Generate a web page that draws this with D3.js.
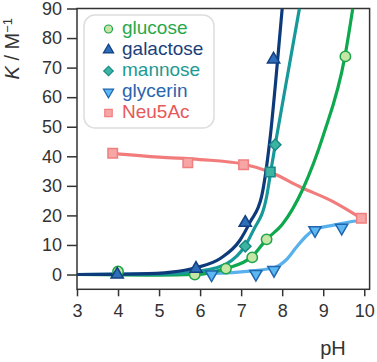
<!DOCTYPE html>
<html lang="en">
  <head>
    <meta charset="UTF-8" />
    <title>K vs pH</title>
    <script src="https://cdn.jsdelivr.net/npm/d3@7"></script>
    <style>
      body {
        margin: 0;
        background: #ffffff;
        font-family: "Liberation Sans", Arial, sans-serif;
      }
    </style>
  </head>
  <body>
    <div id="chart"></div>
    <script>
      // tick values
      const xTicks = [3, 4, 5, 6, 7, 8, 9, 10];
      const yTicks = [0, 10, 20, 30, 40, 50, 60, 70, 80, 90];

      // measured points [pH, K]
      const glucosePts = [[4.0, 1.0], [5.87, 0], [6.63, 2.0], [7.27, 5.8], [7.62, 11.9], [9.54, 73.8]];
      const galactosePts = [[3.98, 0], [5.9, 2.0], [7.1, 17.5], [7.79, 72.8]];
      const mannosePts = [[7.1, 9.6], [7.83, 43.9]];
      const mannoseSquarePts = [[7.71, 34.7]];
      const glycerinPts = [[6.28, 0], [7.36, 0.2], [7.8, 1.5], [8.8, 15.0], [9.45, 15.8]];
      const neuPts = [[3.87, 41.0], [5.7, 37.8], [7.06, 37.1], [9.93, 19.0]];

      // fitted curves [pH, K]
      const glucoseFit = [[3, 0], [5, -0.2], [5.86, 0], [6.62, 2], [7.26, 6], [7.62, 11.9], [8.0, 16.9], [8.51, 29.1], [9.0, 47], [9.53, 73.9], [9.72, 90]];
      const galactoseFit = [[3, 0], [4.5, 0.2], [5.3, 0.8], [5.9, 2.3], [6.5, 5.5], [6.97, 11.6], [7.22, 17.8], [7.5, 26.5], [7.7, 45.5], [7.89, 72.8], [8.0, 90]];
      const mannoseFit = [[3, 0], [5, 0.1], [6, 1.2], [6.65, 3.7], [7.09, 9.6], [7.3, 15], [7.62, 26.3], [7.72, 34.7], [7.85, 45.5], [8.2, 72.8], [8.42, 90]];
      const glycerinFit = [[3, 0], [6, 0.3], [7, 0.9], [7.8, 2.3], [8.1, 5], [8.35, 9.3], [8.6, 13.2], [8.8, 15.3], [9.25, 16.7], [9.82, 18.1], [10, 18.2]];
      const neuFit = [[3.87, 41], [5.0, 39.7], [6.0, 38.9], [7.04, 37.4], [7.72, 34.6], [8.43, 29.7], [9.25, 24.6], [9.93, 19.0]];

      const series = [
        { name: "Neu5Ac", fit: neuFit, pts: neuPts, shape: "square", line: "#f27c7c", fill: "#f8a5a5", stroke: "#f07f7f", text: "#e8585a" },
        { name: "glycerin", fit: glycerinFit, pts: glycerinPts, shape: "down", line: "#58b1ec", fill: "#5db8f2", stroke: "#1f66ae", text: "#2a64ad" },
        { name: "glucose", fit: glucoseFit, pts: glucosePts, shape: "circle", line: "#0ea84e", fill: "#c6e6a6", stroke: "#1ea54b", text: "#28a84a" },
        { name: "mannose", fit: mannoseFit, pts: mannosePts, shape: "diamond", line: "#17999a", fill: "#3db4a1", stroke: "#178a86", text: "#1d9a93" },
        { name: "galactose", fit: galactoseFit, pts: galactosePts, shape: "up", line: "#0d3a7a", fill: "#2e6eb9", stroke: "#123f80", text: "#1c3f7a" },
      ];
      const legendOrder = ["glucose", "galactose", "mannose", "glycerin", "Neu5Ac"];

      const W = 377, H = 362;
      const svg = d3.select("#chart").append("svg").attr("width", W).attr("height", H);

      const x = d3.scaleLinear().domain([3, 10.13]).range([77, 369.6]);
      const y = d3.scaleLinear().domain([-5, 90]).range([289.3, 8.5]);

      const axisColor = "#333333";

      svg.append("defs").append("clipPath").attr("id", "plot")
        .append("rect")
        .attr("x", x(3)).attr("y", y(90))
        .attr("width", x(10.13) - x(3)).attr("height", y(-5) - y(90));

      // axes
      const yAxis = svg.append("g")
        .attr("transform", `translate(${x(3)},0)`)
        .call(d3.axisLeft(y).tickValues(yTicks).tickSizeInner(10).tickSizeOuter(0).tickPadding(5));
      const xAxis = svg.append("g")
        .attr("transform", `translate(0,${y(-5)})`)
        .call(d3.axisBottom(x).tickValues(xTicks).tickSizeInner(7).tickSizeOuter(0).tickPadding(8));
      [xAxis, yAxis].forEach((g) => {
        g.select(".domain").remove();
        g.selectAll(".tick line").attr("stroke", axisColor).attr("stroke-width", 1.5);
        g.selectAll(".tick text")
          .attr("fill", axisColor)
          .style("font-family", '"Liberation Sans", Arial, sans-serif')
          .style("font-size", "18px");
      });

      // frame
      svg.append("rect")
        .attr("x", x(3)).attr("y", y(90))
        .attr("width", x(10.13) - x(3)).attr("height", y(-5) - y(90))
        .attr("fill", "none").attr("stroke", axisColor).attr("stroke-width", 1.5);

      // axis titles
      svg.append("text")
        .attr("x", 333).attr("y", 355)
        .attr("text-anchor", "middle")
        .attr("fill", axisColor)
        .style("font-size", "20px")
        .text("pH");

      const yl = svg.append("text")
        .attr("transform", "translate(19,18) rotate(-90)")
        .attr("text-anchor", "end")
        .attr("fill", axisColor)
        .style("font-size", "20px");
      yl.append("tspan").style("font-style", "italic").text("K");
      yl.append("tspan").text(" / M");
      yl.append("tspan").attr("dy", -7).style("font-size", "13px").text("\u22121");

      // curves
      const line = d3.line().x((d) => x(d[0])).y((d) => y(d[1])).curve(d3.curveMonotoneX);
      const plot = svg.append("g").attr("clip-path", "url(#plot)");
      series.forEach((s) => {
        plot.append("path")
          .datum(s.fit)
          .attr("fill", "none")
          .attr("stroke", s.line)
          .attr("stroke-width", 3.2)
          .attr("d", line);
      });

      const symbolFor = (shape, size) => {
        if (shape === "circle") return d3.symbol(d3.symbolCircle, size)();
        if (shape === "square") return d3.symbol(d3.symbolSquare, size)();
        if (shape === "diamond") return d3.symbol(d3.symbolSquare, size)();
        return d3.symbol(d3.symbolTriangle, size)();
      };
      const rotFor = (shape) => (shape === "diamond" ? 45 : shape === "down" ? 180 : 0);

      function drawMarkers(g, pts, s, shape, size) {
        g.selectAll(null)
          .data(pts)
          .enter()
          .append("path")
          .attr("d", symbolFor(shape, size))
          .attr("transform", (d) => `translate(${x(d[0])},${y(d[1])}) rotate(${rotFor(shape)})`)
          .attr("fill", s.fill)
          .attr("stroke", s.stroke)
          .attr("stroke-width", 1.5);
      }

      const markers = svg.append("g");
      const sizes = { circle: 85, square: 90, diamond: 65, up: 65, down: 65 };
      series.forEach((s) => {
        drawMarkers(markers, s.pts, s, s.shape, sizes[s.shape]);
        if (s.name === "mannose") drawMarkers(markers, mannoseSquarePts, s, "square", 90);
      });

      // legend
      const legend = svg.append("g");
      legend.append("rect")
        .attr("x", 84).attr("y", 15)
        .attr("width", 130).attr("height", 113)
        .attr("rx", 11)
        .attr("fill", "#ffffff")
        .attr("stroke", "#dddddd")
        .attr("stroke-width", 1.5);
      const lsizes = { circle: 50, square: 55, diamond: 45, up: 45, down: 45 };
      legendOrder.forEach((name, i) => {
        const s = series.find((d) => d.name === name);
        const cy = 28 + 21 * i;
        legend.append("path")
          .attr("d", symbolFor(s.shape, lsizes[s.shape]))
          .attr("transform", `translate(108.5,${cy + 1}) rotate(${rotFor(s.shape)})`)
          .attr("fill", s.fill)
          .attr("stroke", s.stroke)
          .attr("stroke-width", 1.2);
        legend.append("text")
          .attr("x", 122).attr("y", cy)
          .attr("dy", "0.3em")
          .attr("fill", s.text)
          .style("font-size", "19px")
          .text(s.name);
      });
    </script>
  </body>
</html>
